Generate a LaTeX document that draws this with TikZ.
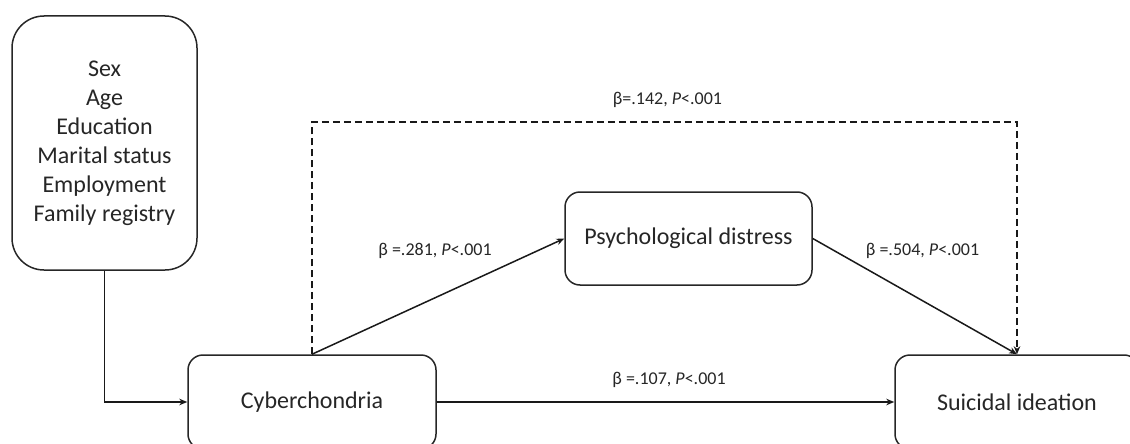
\documentclass[tikz,border=0pt]{standalone}
\usepackage{fontspec}
\setmainfont{Carlito}
\usetikzlibrary{arrows.meta}
\tikzset{
  box/.style={draw=black!85, line width=1.5pt, rounded corners=15pt, align=center,
    inner sep=0pt, text=black!85, font=\fontsize{24}{29}\selectfont},
  lbl/.style={text=black!85, inner sep=0pt, font=\fontsize{18}{21}\selectfont},
  conn/.style={draw=black!90, line width=1.5pt, -{Stealth[length=8pt,width=6.5pt]}},
  dashconn/.style={conn, dash pattern=on 7pt off 4pt}
}
\begin{document}
\begin{tikzpicture}[x=1pt,y=-1pt]
\useasboundingbox (0,0) rectangle (1130,444);
\node[box, rounded corners=32pt, minimum width=185pt, minimum height=254pt] (cov) at (104.5,143)
  {Sex\\Age\\Education\\Marital status\\Employment\\Family registry};
\node[box, minimum width=248pt, minimum height=94pt] (cyb) at (312,402) {Cyberchondria};
\node[box, minimum width=247pt, minimum height=93pt] (psy) at (688.5,238.5) {Psychological distress};
\node[box, minimum width=244pt, minimum height=94pt] (sui) at (1017,402) {Suicidal ideation};
\coordinate (dtop) at (312,122);
\draw[conn] (cov.south) |- (cyb.west);
\draw[conn] (cyb.east) -- (sui.west);
\draw[conn] (cyb.north) -- (psy.west);
\draw[conn] (psy.east) -- (sui.north);
\draw[dashconn] (cyb.north) -- (dtop) -| (sui.north);
\node[lbl] (l142) at (667.5,100) {β=.142, \textit{P}<.001};
\node[lbl] (l281) at (435,251) {β =.281, \textit{P}<.001};
\node[lbl] (l504) at (922.5,251) {β =.504, \textit{P}<.001};
\node[lbl] (l107) at (669,380) {β =.107, \textit{P}<.001};
\end{tikzpicture}
\end{document}
